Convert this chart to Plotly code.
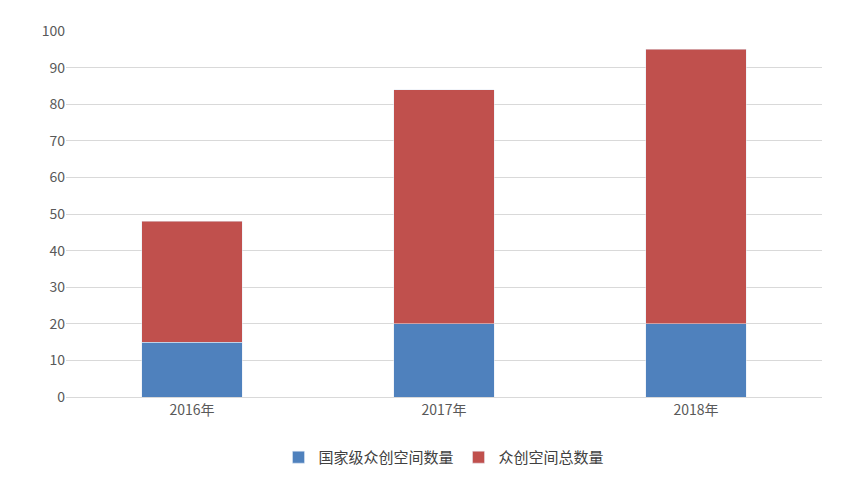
import plotly.graph_objects as go

years = ["2016年", "2017年", "2018年"]
national = [15, 20, 20]
total_rest = [33, 64, 75]  # stacked on top, totals 48 / 84 / 95

fig = go.Figure()
fig.add_trace(go.Bar(x=years, y=national, name="国家级众创空间数量", marker_color="#4f81bd"))
fig.add_trace(go.Bar(x=years, y=total_rest, name="众创空间总数量", marker_color="#c0504d"))

fig.update_layout(
    barmode="stack",
    bargap=0.6,
    width=844, height=478,
    paper_bgcolor="white", plot_bgcolor="white",
    margin=dict(l=58, r=30, t=20, b=81),
    font=dict(family="Noto Sans CJK SC", size=14, color="#595959"),
    legend=dict(orientation="h", x=0.5, xanchor="center", y=-0.12, yanchor="top",
                traceorder="normal", font=dict(size=15, color="#404040")),
    showlegend=True,
)
fig.update_yaxes(range=[0, 100], dtick=10, showgrid=True, gridcolor="#d9d9d9",
                 zeroline=False, showline=False, ticks="", ticklen=0)
fig.update_xaxes(showline=True, linecolor="#d9d9d9", ticks="")

fig.write_html("out.html")
